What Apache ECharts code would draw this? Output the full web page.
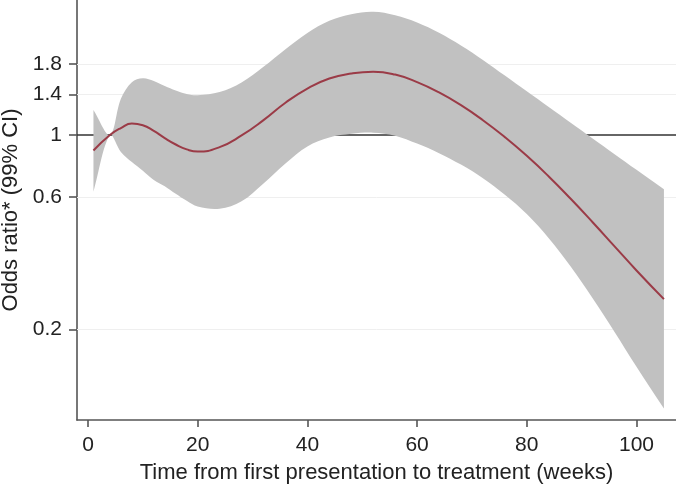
<!DOCTYPE html>
<html>
<head>
<meta charset="utf-8">
<script src="https://cdn.jsdelivr.net/npm/echarts@6/dist/echarts.min.js"></script>
<style>
html,body{margin:0;padding:0;background:#fff;}
#c{width:676px;height:486px;}
</style>
</head>
<body>
<div id="c"></div>
<script>
// ---- data ----
const weeks     = [1, 4, 6, 8, 10, 12, 14, 16, 18, 20, 24, 28, 32, 36, 40, 44, 48, 52, 56, 60, 64, 68, 72, 76, 80, 84, 88, 92, 96, 100, 105];
const oddsRatio = [0.88, 1.00, 1.06, 1.10, 1.085, 1.035, 0.975, 0.925, 0.888, 0.872, 0.905, 0.997, 1.132, 1.307, 1.47, 1.597, 1.665, 1.69, 1.65, 1.55, 1.423, 1.281, 1.131, 0.983, 0.842, 0.710, 0.590, 0.486, 0.398, 0.326, 0.257];
const ciUpper   = [1.23, 1.00, 1.35, 1.55, 1.60, 1.565, 1.50, 1.445, 1.405, 1.39, 1.428, 1.547, 1.761, 2.036, 2.33, 2.575, 2.721, 2.776, 2.697, 2.54, 2.333, 2.10, 1.863, 1.636, 1.436, 1.261, 1.107, 0.972, 0.854, 0.75, 0.639];
const ciLower   = [0.625, 1.00, 0.87, 0.80, 0.745, 0.69, 0.655, 0.615, 0.58, 0.553, 0.543, 0.578, 0.67, 0.79, 0.91, 0.98, 1.01, 1.02, 0.995, 0.932, 0.861, 0.783, 0.70, 0.61, 0.52, 0.426, 0.337, 0.259, 0.196, 0.147, 0.104];
const xTicks    = [0, 20, 40, 60, 80, 100];
const yTicks    = [0.2, 0.6, 1, 1.4, 1.8];
const gridValues = [0.2, 0.6, 1.4, 1.8];
const refValue  = 1;
const xTitle = 'Time from first presentation to treatment (weeks)';
const yTitle = 'Odds ratio* (99% CI)';

const FONT = '"Liberation Sans", Arial, Helvetica, sans-serif';
const chart = echarts.init(document.getElementById('c'), null, {renderer: 'canvas'});

const lineData = weeks.map((w, i) => [w, oddsRatio[i]]);

chart.setOption({
  animation: false,
  backgroundColor: '#ffffff',
  grid: {left: 77, right: 0, top: 0, bottom: 66, containLabel: false, outerBoundsMode: 'none'},
  xAxis: {
    type: 'value', min: -2, max: 107.2,
    name: xTitle, nameLocation: 'middle', nameGap: 42,
    nameTextStyle: {fontFamily: FONT, fontSize: 22, color: '#222'},
    axisLine: {show: true, onZero: false, lineStyle: {color: '#555', width: 1.6}},
    axisTick: {show: true, length: 7, customValues: xTicks, lineStyle: {color: '#555', width: 1.6}},
    axisLabel: {customValues: xTicks, margin: 15, fontFamily: FONT, fontSize: 21, color: '#222'},
    splitLine: {show: false}
  },
  yAxis: {
    type: 'log', logBase: 10, min: 0.0945, max: 3.06,
    name: yTitle, nameLocation: 'middle', nameGap: 52,
    nameTextStyle: {fontFamily: FONT, fontSize: 22, color: '#222'},
    axisLine: {show: true, onZero: false, lineStyle: {color: '#555', width: 1.6}},
    axisTick: {show: true, length: 8, customValues: yTicks, lineStyle: {color: '#555', width: 1.6}},
    axisLabel: {customValues: yTicks, margin: 15, fontFamily: FONT, fontSize: 21, color: '#222',
      formatter: v => String(Math.round(v * 10) / 10)},
    splitLine: {show: false}
  },
  series: [
    {
      type: 'line', data: [], z: 1, silent: true,
      markLine: {
        z: 1, silent: true, symbol: 'none', label: {show: false}, animation: false,
        data: gridValues.map(v => ({yAxis: v, lineStyle: {color: '#efefef', width: 1, type: 'solid'}}))
          .concat([{yAxis: refValue, lineStyle: {color: '#333', width: 1.6, type: 'solid'}}])
      }
    },
    {
      type: 'custom', z: 2, silent: true,
      data: [[weeks[0], ciUpper[0]]],
      renderItem: function (params, api) {
        if (params.dataIndex !== 0) return null;
        const top = weeks.map((w, i) => api.coord([w, ciUpper[i]]));
        const bot = weeks.map((w, i) => api.coord([w, ciLower[i]])).reverse();
        const pts = [];
        pts.push(top[0]);
        top.forEach(p => pts.push(p));
        pts.push(top[top.length - 1]);
        pts.push(bot[0]);
        bot.forEach(p => pts.push(p));
        pts.push(bot[bot.length - 1]);
        return {type: 'polygon', shape: {points: pts, smooth: 0.35}, style: {fill: '#c1c1c1', stroke: null}};
      }
    },
    {
      type: 'line', z: 3, data: lineData, smooth: 0.5, showSymbol: false, silent: true,
      lineStyle: {color: '#9b3b47', width: 2}
    }
  ]
});
</script>
</body>
</html>
